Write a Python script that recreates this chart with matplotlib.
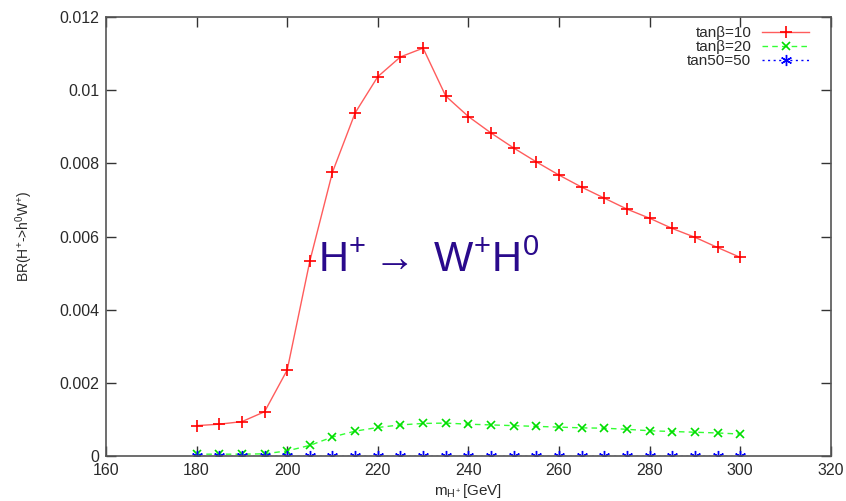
import numpy as np
import matplotlib
matplotlib.use('Agg')
import matplotlib.pyplot as plt

plt.rcParams['font.family'] = ['Liberation Sans', 'DejaVu Sans']
plt.rcParams['mathtext.fontset'] = 'custom'
plt.rcParams['mathtext.rm'] = 'Liberation Sans'
plt.rcParams['mathtext.it'] = 'Liberation Sans'

# charged Higgs mass points (GeV)
mass = [180, 185, 190, 195, 200, 205, 210, 215, 220, 225, 230, 235, 240,
        245, 250, 255, 260, 265, 270, 275, 280, 285, 290, 295, 300]

br_tb10 = [0.00083, 0.00087, 0.00094, 0.00121, 0.00235, 0.00533, 0.00776,
           0.00938, 0.01037, 0.01091, 0.01115, 0.00984, 0.00928, 0.00883,
           0.00842, 0.00804, 0.00768, 0.00735, 0.00705, 0.00675, 0.00650,
           0.00622, 0.00598, 0.00570, 0.00543]

br_tb20 = [0.00005, 0.00005, 0.00005, 0.00006, 0.00014, 0.00029, 0.00052,
           0.00068, 0.00078, 0.00085, 0.00089, 0.00090, 0.00087, 0.00085,
           0.00083, 0.00081, 0.00079, 0.00077, 0.00076, 0.00073, 0.00069,
           0.00067, 0.00065, 0.00063, 0.00060]

br_tb50 = [0.00001] * len(mass)

labels = ['tan\u03b2=10', 'tan\u03b2=20', 'tan50=50']

fig = plt.figure(figsize=(8.46, 5.01), dpi=100)
ax = fig.add_axes([0.1253, 0.0898, 0.8567, 0.8762])

ax.plot(mass, br_tb10, color='#ff5c5c', lw=1.0, marker='+', ms=8,
        mec='#ff0000', mew=1.2, label=labels[0])
ax.plot(mass, br_tb20, color='#33ff33', lw=1.0, ls=(0, (4, 3)), marker='x',
        ms=6, mec='#00dd00', mew=1.2, label=labels[1])
ax.plot(mass, br_tb50, color='#0000ff', lw=1.0, ls=(0, (1.5, 2.5)),
        marker=(6, 2, 0), ms=8, mec='#0000ff', mew=1.0, label=labels[2])

ax.set_xlim(160, 320)
ax.set_ylim(0, 0.012)
ax.set_xticks(np.arange(160, 321, 20))
ax.set_yticks(np.arange(0, 0.0121, 0.002))
ax.set_yticklabels(['0', '0.002', '0.004', '0.006', '0.008', '0.01', '0.012'])

for s in ax.spines.values():
    s.set_color('#555555')
    s.set_linewidth(1.2)
ax.tick_params(direction='in', length=7, width=1, color='#333333',
               top=True, right=True, labelsize=11.5, labelcolor='#2a2a2a',
               pad=5)

ax.set_xlabel(r'm$_{\mathrm{H^+}}$[GeV]', fontsize=11, color='#2a2a2a',
              labelpad=3)
ax.set_ylabel(r'BR(H$^{+}$->h$^{0}$W$^{+}$)', fontsize=10, color='#2a2a2a',
              labelpad=17)

# decay channel label inside the plot
ax.text(206.8, 0.00503, r'H$^{+}$$\rightarrow$ W$^{+}$H$^{0}$',
        fontsize=30, color='#2a0a8c', ha='left', va='baseline')

leg = ax.legend(loc='upper right', bbox_to_anchor=(0.979, 0.993),
                markerfirst=False, frameon=False, fontsize=11,
                handlelength=3.1, labelspacing=0.0, borderaxespad=0.0,
                handletextpad=0.7)
for t in leg.get_texts():
    t.set_color('#2a2a2a')

fig.savefig('out.png', dpi=100)
